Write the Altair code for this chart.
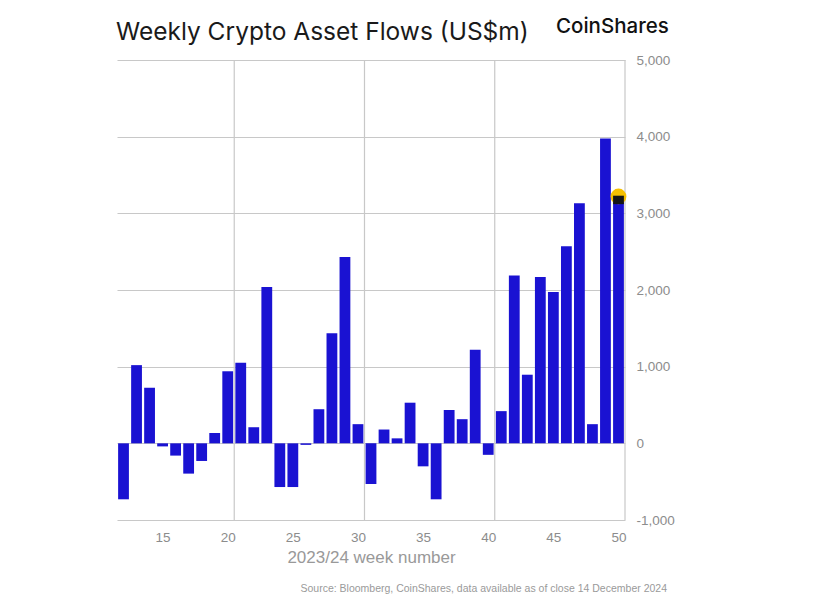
import altair as alt
import pandas as pd

# ---- data ----
weeks = list(range(12, 51))
flows = [-730, 1020, 725, -40, -160, -395, -230, 135, 940, 1050,
         210, 2040, -570, -570, -20, 445, 1435, 2430, 250, -530,
         180, 65, 530, -300, -730, 435, 315, 1220, -150, 420,
         2190, 895, 2170, 1975, 2570, 3130, 250, 3975, 3230]
x_ticks = [15, 20, 25, 30, 35, 40, 45, 50]
y_ticks = [-1000, 0, 1000, 2000, 3000, 4000, 5000]
v_grid = [20.5, 30.5, 40.5, 50.5]
marker_week = [50]
marker_low = [3120]
marker_high = [3230]
marker_val = [3220]

title_text = "Weekly Crypto Asset Flows (US$m)"
logo_text = "CoinShares"
source_text = "Source: Bloomberg, CoinShares, data available as of close 14 December 2024"
x_title = "2023/24 week number"

W, H = 508, 460
BAR = "#1a12d2"
GRID = "#c8c8c8"
LBL = "#8c8c8c"

df = pd.DataFrame({"week": weeks, "flow": flows})
xs = alt.Scale(domain=[11.5, 50.5], nice=False, zero=False, padding=0)
ys = alt.Scale(domain=[-1000, 5000], nice=False, padding=0)

bars = alt.Chart(df).mark_bar(size=10.8, color=BAR).encode(
    x=alt.X("week:Q", scale=xs,
            axis=alt.Axis(values=x_ticks, grid=False, ticks=False, domain=False,
                          labelColor=LBL, labelFontSize=13.5, labelPadding=10,
                          labelFont="Liberation Sans",
                          title=x_title, titleColor="#999999", titleFontSize=17,
                          titleFont="Liberation Sans", titleFontWeight="normal",
                          titlePadding=6)),
    y=alt.Y("flow:Q", scale=ys,
            axis=alt.Axis(orient="right", values=y_ticks, format=",.0f", grid=True,
                          labelExpr="replace(datum.label, '\u2212', '-')",
                          gridColor=GRID, gridWidth=1.2, ticks=False, domain=False,
                          labelColor=LBL, labelFontSize=13.5, labelPadding=11,
                          labelFont="Liberation Sans", title=None)),
)

vgrid = alt.Chart(pd.DataFrame({"g": v_grid})).mark_rule(color=GRID, strokeWidth=1.2).encode(
    x=alt.X("g:Q", scale=xs)
)

mk = pd.DataFrame({"week": marker_week, "lo": marker_low, "hi": marker_high, "v": marker_val})
circle = alt.Chart(mk).mark_circle(color="#f5c000", opacity=1, size=250).encode(
    x=alt.X("week:Q", scale=xs), y=alt.Y("v:Q", scale=ys)
)
cap = alt.Chart(mk).mark_bar(size=10.8, color="#151515").encode(
    x=alt.X("week:Q", scale=xs), y=alt.Y("lo:Q", scale=ys), y2="hi:Q"
)

title = alt.Chart(pd.DataFrame({"t": [title_text]})).mark_text(
    align="left", baseline="alphabetic", fontSize=24.5, font="Inter", color="#1a1a1a"
).encode(text="t:N", x=alt.value(-1), y=alt.value(-20))

logo = alt.Chart(pd.DataFrame({"t": [logo_text]})).mark_text(
    align="left", baseline="middle", fontSize=20.5, font="Inter",
    fontWeight=500, color="#111111"
).encode(text="t:N", x=alt.value(439), y=alt.value(-33))

source = alt.Chart(pd.DataFrame({"t": [source_text]})).mark_text(
    align="right", baseline="middle", fontSize=10.5, font="Liberation Sans", color="#9a9a9a"
).encode(text="t:N", x=alt.value(550), y=alt.value(529))

chart = alt.layer(vgrid, bars, circle, cap, title, logo, source).properties(
    width=W, height=H,
    background="white",
    autosize=alt.AutoSizeParams(type="none"),
    padding={"left": 109, "top": 52, "right": 190, "bottom": 78},
).configure_view(stroke=None)

chart.save("out.html", embed_options={"renderer": "svg", "actions": False})
